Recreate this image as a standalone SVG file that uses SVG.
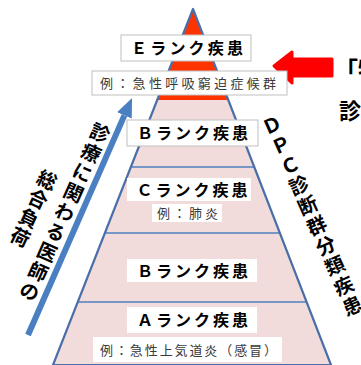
<svg xmlns="http://www.w3.org/2000/svg" width="361" height="365" viewBox="0 0 361 365">
<defs>
<style>
.jp{font-family:"Noto Sans CJK JP","Noto Sans CJK SC",sans-serif;}
.rank{font-size:16px;font-weight:bold;fill:#000;text-anchor:middle;}
.ex{font-size:13px;fill:#3a3a3a;text-anchor:middle;}
.vert{font-size:19.5px;font-weight:bold;fill:#000;writing-mode:vertical-rl;}
.box{fill:#fff;}
.bbox{fill:#fff;stroke:#bfbfbf;stroke-width:1;}
.hline{stroke:#4f7fbf;stroke-width:1.5;}
</style>
<marker id="blueHead" markerUnits="userSpaceOnUse" markerWidth="20" markerHeight="16" refX="0" refY="8" orient="auto">
<path d="M0,0 L19,8 L0,16 z" fill="#4a7fc1"/>
</marker>
</defs>
<rect width="361" height="365" fill="#fff"/>
<g id="pyramid">
<polygon points="193,9 53,365 331,365" fill="#f2dcdb"/>
<polygon points="193,9 157.2,100 228.3,100" fill="#ff3300"/>
<line class="hline" x1="130.9" y1="167" x2="254.2" y2="167"/>
<line class="hline" x1="104.9" y1="233" x2="279.8" y2="233"/>
<line class="hline" x1="77.8" y1="302" x2="306.6" y2="302"/>
<polygon points="193,9 53,365 331,365" fill="none" stroke="#4a6fa8" stroke-width="2.2" stroke-linejoin="round"/>
</g>
<g id="connectors">
<line x1="28" y1="335" x2="124.4" y2="115.4" stroke="#4a7fc1" stroke-width="6" marker-end="url(#blueHead)"/>
<polygon points="274,66 292,52 292,59 332,59 332,76 292,76 292,83" fill="#ff0000" stroke="#ff0000" stroke-width="3" stroke-linejoin="round"/>
</g>
<g id="rankE">
<rect class="bbox" x="121" y="35" width="130" height="26"/>
<text class="jp rank" x="187" y="54" textLength="112" lengthAdjust="spacing">Ｅランク疾患</text>
</g>
<g id="exE">
<rect class="bbox" x="92" y="71" width="195" height="24"/>
<text class="jp ex" x="188" y="88" textLength="176" lengthAdjust="spacing">例：急性呼吸窮迫症候群</text>
</g>
<g id="rankB1">
<rect class="bbox" x="127" y="120" width="131" height="26"/>
<text class="jp rank" x="192.5" y="139" textLength="111" lengthAdjust="spacing">Ｂランク疾患</text>
</g>
<g id="rankC">
<rect class="box" x="127" y="178" width="124" height="23"/>
<text class="jp rank" x="192" y="195.5" textLength="111" lengthAdjust="spacing">Ｃランク疾患</text>
</g>
<g id="exC">
<rect class="box" x="152" y="204" width="70" height="18"/>
<text class="jp ex" x="187.5" y="217.5" textLength="61" lengthAdjust="spacing">例：肺炎</text>
</g>
<g id="rankB2">
<rect class="box" x="127" y="259" width="130" height="23"/>
<text class="jp rank" x="192.5" y="276.5" textLength="111" lengthAdjust="spacing">Ｂランク疾患</text>
</g>
<g id="rankA">
<rect class="box" x="127" y="307" width="130" height="26"/>
<text class="jp rank" x="192.5" y="326" textLength="111" lengthAdjust="spacing">Ａランク疾患</text>
</g>
<g id="exA">
<rect class="box" x="93" y="337" width="189" height="25"/>
<text class="jp ex" x="188.5" y="354.5" textLength="177" lengthAdjust="spacing">例：急性上気道炎（感冒）</text>
</g>
<g id="leftLabel">
<text class="jp vert" transform="translate(104,124) rotate(24)" x="0" y="0" letter-spacing="2.2">診療に関わる医師の</text>
<text class="jp vert" transform="translate(51,171) rotate(25)" x="0" y="0" letter-spacing="1.6">総合負荷</text>
</g>
<g id="rightLabel">
<text class="jp vert" transform="translate(268,116) rotate(-24)" x="0" y="0" letter-spacing="2.5">ＤＰＣ診断群分類疾患</text>
</g>
<g id="sideNote">
<text class="jp" x="334" y="79" font-size="24" font-weight="bold" fill="#000">「特</text>
<text class="jp" x="339" y="119" font-size="22" font-weight="bold" fill="#000">診</text>
</g>
</svg>
